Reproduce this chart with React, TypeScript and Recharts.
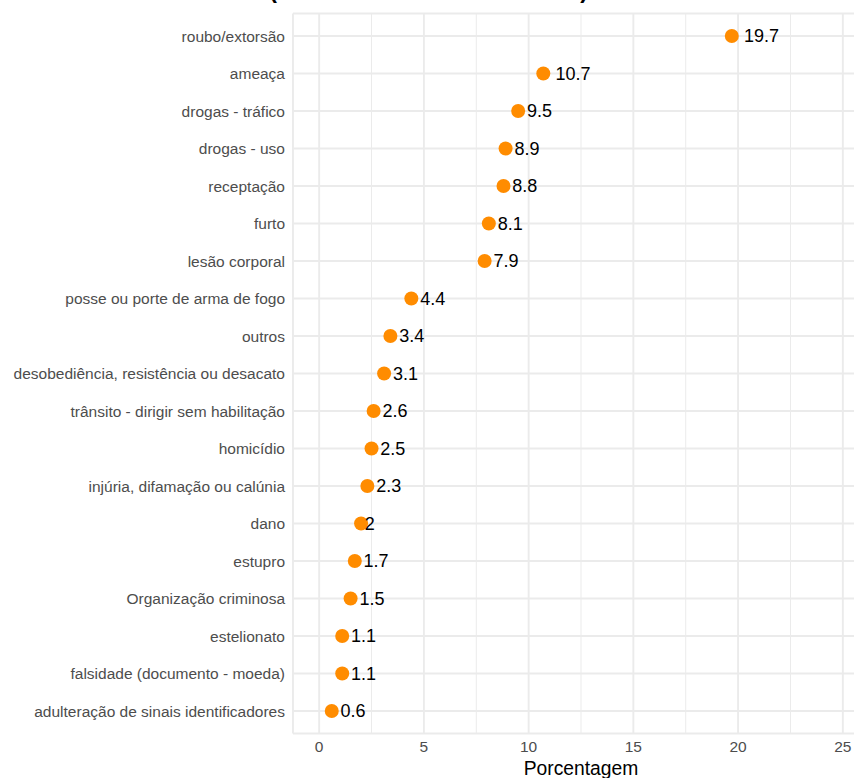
import React from 'react';
import { ScatterChart, Scatter, XAxis, YAxis, CartesianGrid, ReferenceLine } from 'recharts';

const categories = [
  'roubo/extorsão',
  'ameaça',
  'drogas - tráfico',
  'drogas - uso',
  'receptação',
  'furto',
  'lesão corporal',
  'posse ou porte de arma de fogo',
  'outros',
  'desobediência, resistência ou desacato',
  'trânsito - dirigir sem habilitação',
  'homicídio',
  'injúria, difamação ou calúnia',
  'dano',
  'estupro',
  'Organização criminosa',
  'estelionato',
  'falsidade (documento - moeda)',
  'adulteração de sinais identificadores',
];

const values = [19.7, 10.7, 9.5, 8.9, 8.8, 8.1, 7.9, 4.4, 3.4, 3.1, 2.6, 2.5, 2.3, 2, 1.7, 1.5, 1.1, 1.1, 0.6];

const xTicks = [0, 5, 10, 15, 20, 25];
const minorTicks = [2.5, 7.5, 12.5, 17.5, 22.5];
const rowTicks = categories.map((_, i) => i);

const data = categories.map((name, i) => ({ name, idx: i, value: values[i] }));

const FONT = '"Liberation Sans", Arial, Helvetica, sans-serif';

const DotWithLabel = (props: any) => {
  const { cx, cy, payload } = props;
  const txt = String(payload.value);
  const w = [...txt].reduce((s, c) => s + (c === '.' ? 0.278 : 0.556), 0) * 18;
  return (
    <g>
      <circle cx={cx} cy={cy} r={7} fill="#FF8C00" />
      <text x={cx + 0.3 + 0.34 * w} y={cy} dy="0.36em" fontSize={18} fill="#000000" fontFamily={FONT}>
        {txt}
      </text>
    </g>
  );
};

export default function App() {
  return (
    <div style={{ position: 'absolute', left: 0, top: 0, width: 854, height: 778, overflow: 'hidden', background: '#ffffff', fontFamily: FONT }}>
      <ScatterChart width={880} height={778} margin={{ top: 13.5, right: 11, bottom: 0, left: 0 }}>
        <CartesianGrid stroke="#EBEBEB" strokeWidth={1.9} />
        {minorTicks.map((t) => (
          <ReferenceLine key={t} x={t} stroke="#EBEBEB" strokeWidth={1} />
        ))}
        <XAxis
          type="number"
          dataKey="value"
          domain={[-1.25, 26.25]}
          ticks={xTicks}
          allowDataOverflow
          tickLine={false}
          axisLine={false}
          tickSize={0}
          tickMargin={7}
          height={44.5}
          tick={{ fill: '#4D4D4D', fontSize: 15.5, fontFamily: FONT }}
          label={{ value: 'Porcentagem', position: 'insideBottom', offset: 3, fill: '#000000', fontSize: 19.3, fontFamily: FONT }}
        />
        <YAxis
          type="number"
          dataKey="idx"
          domain={[-0.6, 18.6]}
          reversed
          ticks={rowTicks}
          interval={0}
          allowDataOverflow
          tickFormatter={(i: number) => categories[i]}
          tickLine={false}
          axisLine={false}
          tickSize={0}
          tickMargin={8}
          width={293}
          tick={{ fill: '#4D4D4D', fontSize: 15.5, fontFamily: FONT }}
        />
        <Scatter data={data} dataKey="value" shape={DotWithLabel} isAnimationActive={false} />
      </ScatterChart>
      <svg width={854} height={20} style={{ position: 'absolute', left: 0, top: 0 }}>
        <text x={273} y={-2} textAnchor="middle" fontSize={23} fontWeight="bold" fontFamily={FONT} fill="#000">(</text>
        <text x={584} y={-2} textAnchor="middle" fontSize={23} fontWeight="bold" fontFamily={FONT} fill="#000">)</text>
      </svg>
    </div>
  );
}
